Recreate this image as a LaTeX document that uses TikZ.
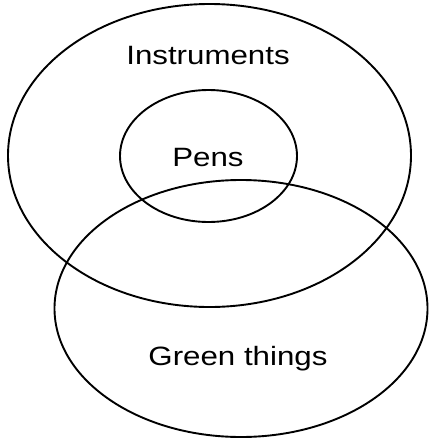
\documentclass[tikz,border=0pt]{standalone}
\usepackage{fontspec}
\setmainfont{Liberation Sans}
\usetikzlibrary{shapes.geometric}
\begin{document}
\begin{tikzpicture}[x=1pt,y=-1pt,
  setbox/.style={draw=black,line width=1.9pt,ellipse,inner sep=0pt},
  lbl/.style={anchor=base,inner sep=0pt,text=black,font=\fontsize{26.5}{30}\selectfont}]
\useasboundingbox (0,0) rectangle (430,440);
\node[setbox,minimum width=403,minimum height=303] (instr) at (209.5,155.5) {};
\node[setbox,minimum width=177,minimum height=132] (pens) at (208.5,156) {};
\node[setbox,minimum width=373,minimum height=257] (green) at (241,308.5) {};
\node[lbl] (tinstr) at (208,64) {\scalebox{1.18}[1]{Instruments}};
\node[lbl] (tpens) at (208,166) {\scalebox{1.18}[1]{Pens}};
\node[lbl] (tgreen) at (238,365) {\scalebox{1.18}[1]{Green things}};
\end{tikzpicture}
\end{document}
